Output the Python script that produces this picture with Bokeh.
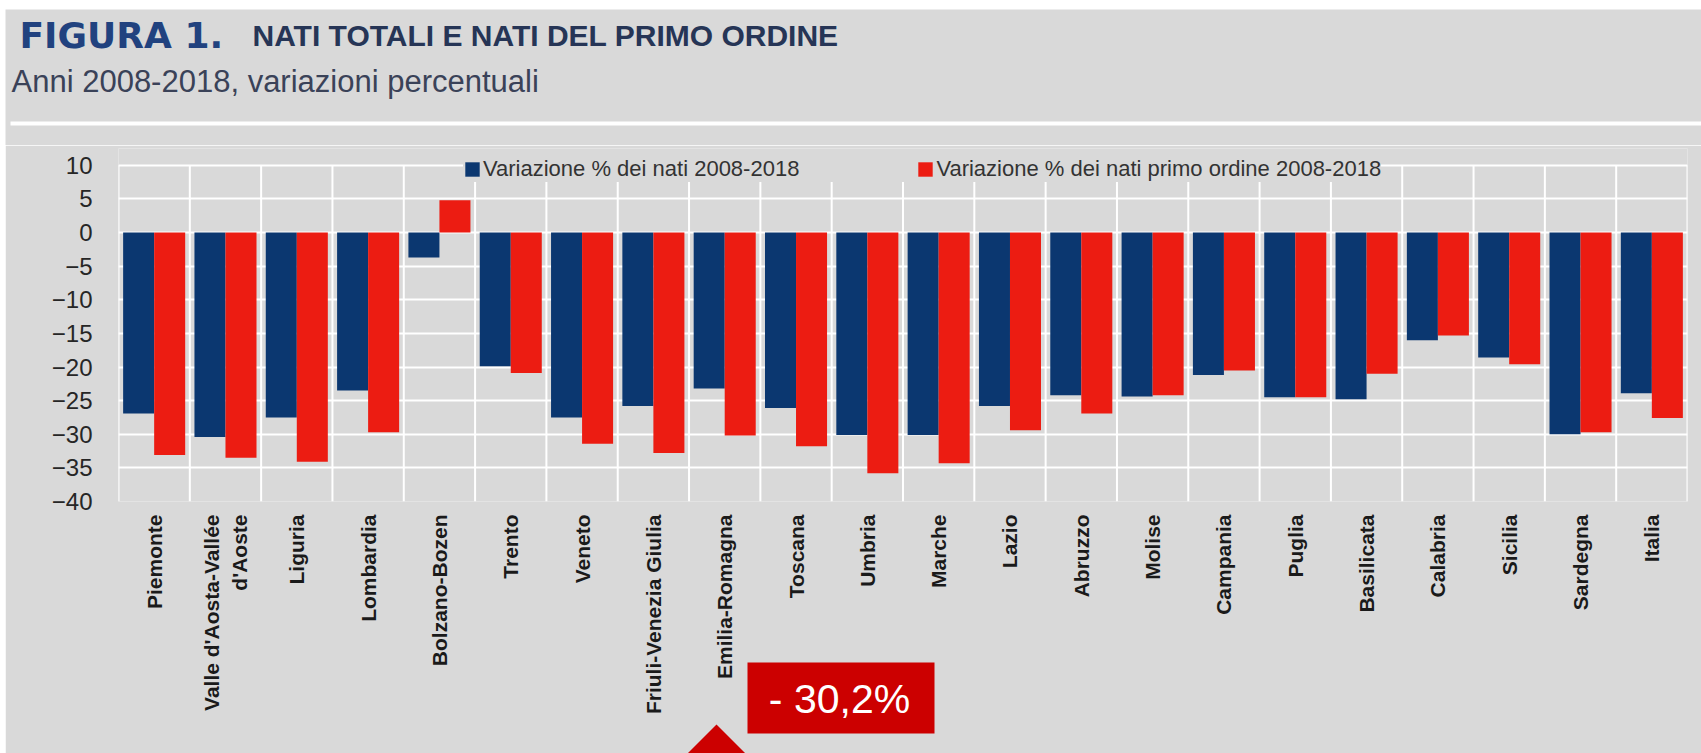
from bokeh.plotting import figure
from bokeh.layouts import column
from bokeh.models import (FactorRange, Range1d, FixedTicker, Legend, LegendItem,
                          Label, PolyAnnotation, ColumnDataSource)
from bokeh.transform import dodge
from bokeh.embed import file_html
from bokeh.resources import INLINE
import math

# ---------------- data ----------------
regions = ["Piemonte", "Valle d'Aosta-Vallée\nd'Aoste", "Liguria", "Lombardia",
           "Bolzano-Bozen", "Trento", "Veneto", "Friuli-Venezia Giulia",
           "Emilia-Romagna", "Toscana", "Umbria", "Marche", "Lazio", "Abruzzo",
           "Molise", "Campania", "Puglia", "Basilicata", "Calabria", "Sicilia",
           "Sardegna", "Italia"]
nati_totali = [-26.9, -30.4, -27.5, -23.5, -3.7, -19.9, -27.5, -25.8, -23.2,
               -26.1, -30.1, -30.1, -25.8, -24.2, -24.4, -21.2, -24.5, -24.8,
               -16.0, -18.6, -30.0, -23.9]
nati_primo = [-33.1, -33.5, -34.1, -29.7, 4.8, -20.9, -31.4, -32.8, -30.2,
              -31.8, -35.8, -34.3, -29.4, -26.9, -24.2, -20.5, -24.5, -21.0,
              -15.3, -19.6, -29.7, -27.6]
y_ticks = [-40, -35, -30, -25, -20, -15, -10, -5, 0, 5, 10]
legend_labels = ["Variazione % dei nati 2008-2018",
                 "Variazione % dei nati primo ordine 2008-2018"]
title_bold = "FIGURA 1."
title_rest = "NATI TOTALI E NATI DEL PRIMO ORDINE"
subtitle = "Anni 2008-2018, variazioni percentuali"
callout = "- 30,2%"

# ---------------- style ----------------
BG = "#d9d9d9"
BLUE = "#0b3770"
RED = "#ec1c12"
BOX_RED = "#cc0000"
SANS = "Liberation Sans"

# ================= header figure =================
HW, HH = 1696, 136
head = figure(width=HW, height=HH, output_backend="svg", toolbar_location=None,
              x_axis_location=None, y_axis_location=None,
              x_range=Range1d(0, 1), y_range=Range1d(0, 1),
              min_border=0, margin=(9, 0, 0, 5), frame_align=False)
head.grid.visible = False
head.background_fill_color = BG
head.border_fill_color = BG
head.outline_line_color = None

head.add_layout(Label(x=14, y=110, x_units="screen", y_units="screen",
                      text=title_bold, text_font="DejaVu Sans", text_font_style="bold",
                      text_font_size="36px", text_color="#21427f",
                      text_baseline="alphabetic"))
head.add_layout(Label(x=247, y=110, x_units="screen", y_units="screen",
                      text=title_rest, text_font=SANS, text_font_style="bold",
                      text_font_size="30px", text_color="#263556",
                      text_baseline="alphabetic"))
head.add_layout(Label(x=6, y=64, x_units="screen", y_units="screen",
                      text=subtitle, text_font=SANS,
                      text_font_size="31px", text_color="#3a4258",
                      text_baseline="alphabetic"))
head.add_layout(PolyAnnotation(xs=[5, HW, HW, 5], ys=[24, 24, 20, 20],
                               xs_units="screen", ys_units="screen",
                               fill_color="white", fill_alpha=1, line_color=None))

# ================= main chart =================
MW, MH = 1696, 608
p = figure(width=MW, height=MH, output_backend="svg", toolbar_location=None,
           x_range=FactorRange(factors=regions, range_padding=0, factor_padding=0),
           y_range=Range1d(-40, 12.5),
           min_border_left=113, min_border_right=14,
           min_border_top=3, min_border_bottom=252, margin=(0, 0, 0, 5),
           frame_align=False)
p.background_fill_color = BG
p.border_fill_color = BG
p.outline_line_color = None

cds = ColumnDataSource(dict(region=regions, nati=nati_totali, primo=nati_primo))

# vertical grid lines at category boundaries, limited to the tick span
bounds = list(range(len(regions) + 1))
p.segment(x0=bounds, x1=bounds, y0=[y_ticks[0]] * len(bounds),
          y1=[y_ticks[-1]] * len(bounds), line_color="white", line_width=2)

r1 = p.vbar(x=dodge("region", -0.2175, range=p.x_range), top="nati", bottom=0,
            width=0.435, source=cds, fill_color=BLUE, line_color=None)
r2 = p.vbar(x=dodge("region", 0.2175, range=p.x_range), top="primo", bottom=0,
            width=0.435, source=cds, fill_color=RED, line_color=None)

p.yaxis.ticker = FixedTicker(ticks=y_ticks)
p.ygrid.ticker = FixedTicker(ticks=y_ticks)
p.ygrid.grid_line_color = "white"
p.ygrid.grid_line_width = 2
p.xgrid.visible = False
for ax in (p.xaxis, p.yaxis):
    ax.axis_line_color = None
    ax.major_tick_line_color = None
    ax.minor_tick_line_color = None
p.yaxis.major_label_text_font = SANS
p.yaxis.major_label_text_font_size = "24px"
p.yaxis.major_label_text_color = "#262626"
p.yaxis.major_label_standoff = 20
p.xaxis.major_label_orientation = math.pi / 2
p.xaxis.major_label_text_font = SANS
p.xaxis.major_label_text_font_style = "bold"
p.xaxis.major_label_text_font_size = "21px"
p.xaxis.major_label_text_color = "#1a1a1a"
p.xaxis.major_label_standoff = 7

legend = Legend(items=[LegendItem(label=legend_labels[0], renderers=[r1]),
                       LegendItem(label=legend_labels[1], renderers=[r2])],
                orientation="horizontal", location=(345, 319),
                glyph_width=18, glyph_height=18, label_standoff=2, spacing=117,
                padding=0, margin=0, border_line_color=None,
                background_fill_color=BG, background_fill_alpha=1,
                label_text_font=SANS, label_text_font_size="22px",
                label_text_color="#333333")
p.add_layout(legend, "center")

# ================= call-out (overlaid) =================
CW, CH = 261, 103
call = figure(width=CW, height=CH, output_backend="svg", toolbar_location=None,
              x_axis_location=None, y_axis_location=None,
              x_range=Range1d(0, 1), y_range=Range1d(0, 1),
              min_border=0, margin=(-CH, 0, 0, 679), frame_align=False)
call.grid.visible = False
call.background_fill_alpha = 0
call.border_fill_alpha = 0
call.outline_line_color = None
call.add_layout(PolyAnnotation(xs=[68, 255, 255, 68], ys=[91, 91, 20, 20],
                               xs_units="screen", ys_units="screen",
                               fill_color=BOX_RED, fill_alpha=1, line_color=None))
call.add_layout(PolyAnnotation(xs=[3, 37, 71], ys=[-5, 29, -5],
                               xs_units="screen", ys_units="screen",
                               fill_color=BOX_RED, fill_alpha=1, line_color=None))
call.add_layout(Label(x=160, y=55, x_units="screen", y_units="screen",
                      text=callout, text_font=SANS, text_font_size="41px",
                      text_color="white", text_align="center",
                      text_baseline="middle"))

layout = column(head, p, call, spacing=0)
open("out.html", "w").write(file_html(layout, INLINE))
